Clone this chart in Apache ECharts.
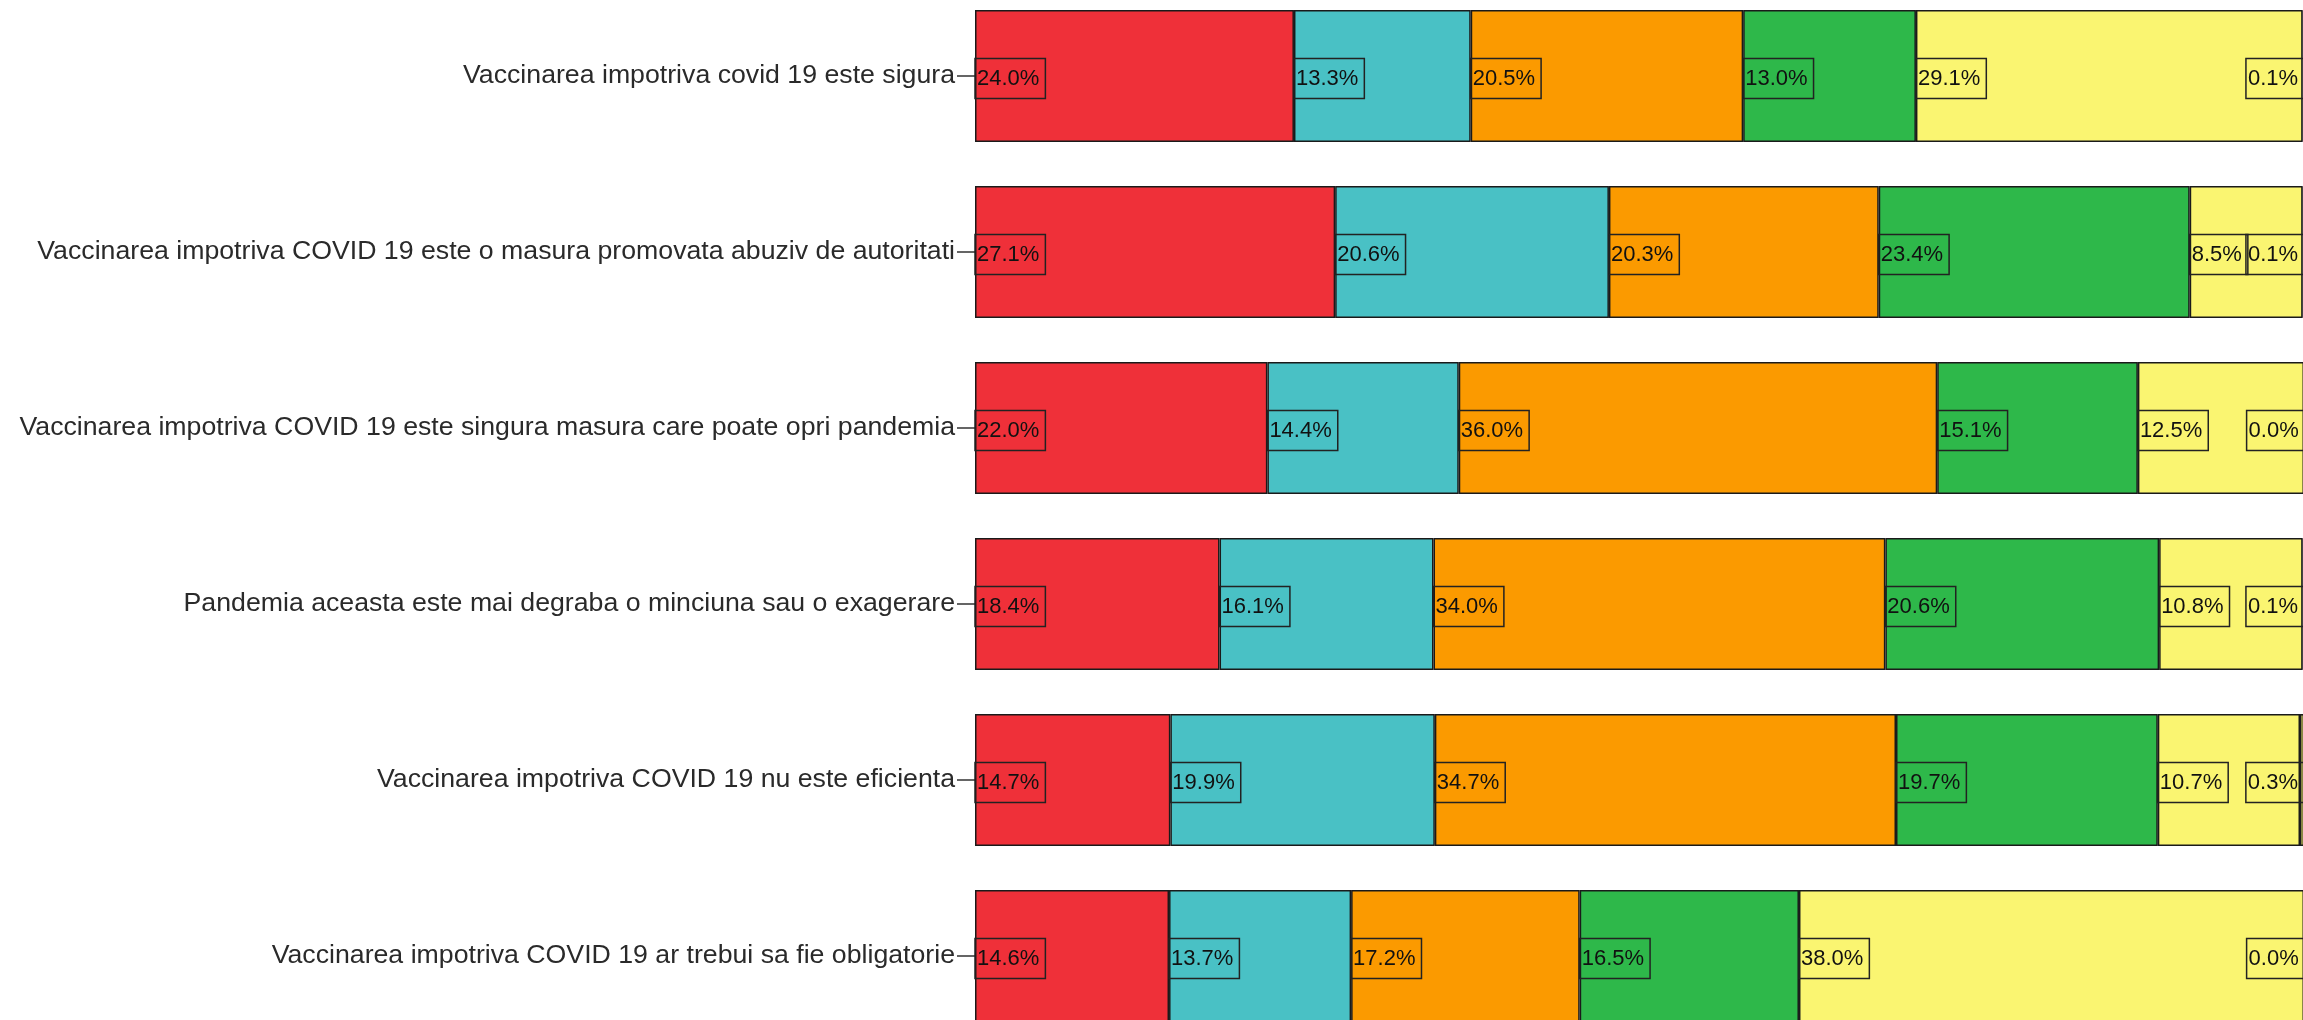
<!DOCTYPE html>
<html>
<head>
<meta charset="utf-8">
<script src="https://cdn.jsdelivr.net/npm/echarts@6/dist/echarts.min.js"></script>
<style>
html,body{margin:0;padding:0;background:#fff;}
#chart{width:2303px;height:1020px;}
</style>
</head>
<body>
<div id="chart"></div>
<script>
var categories = [
  "Vaccinarea impotriva covid 19 este sigura",
  "Vaccinarea impotriva COVID 19 este o masura promovata abuziv de autoritati",
  "Vaccinarea impotriva COVID 19 este singura masura care poate opri pandemia",
  "Pandemia aceasta este mai degraba o minciuna sau o exagerare",
  "Vaccinarea impotriva COVID 19 nu este eficienta",
  "Vaccinarea impotriva COVID 19 ar trebui sa fie obligatorie"
];
var seriesNames = ["1", "2", "3", "4", "5", "6"];
var s1 = [24.0, 27.1, 22.0, 18.4, 14.7, 14.6];
var s2 = [13.3, 20.6, 14.4, 16.1, 19.9, 13.7];
var s3 = [20.5, 20.3, 36.0, 34.0, 34.7, 17.2];
var s4 = [13.0, 23.4, 15.1, 20.6, 19.7, 16.5];
var s5 = [29.1, 8.5, 12.5, 10.8, 10.7, 38.0];
var s6 = [0.1, 0.1, 0.0, 0.1, 0.3, 0.0];
var colors = ["#EF3039", "#49C1C5", "#FB9A00", "#2EB84A", "#FAF571", "#FAF571"];

var allData = [s1, s2, s3, s4, s5, s6];

var chart = echarts.init(document.getElementById('chart'), null, {renderer: 'canvas'});

var series = allData.map(function (d, i) {
  var last = i === allData.length - 1;
  return {
    name: seriesNames[i],
    type: 'bar',
    stack: 'total',
    data: d,
    barCategoryGap: '25%',
    itemStyle: {color: colors[i], borderColor: '#1a1a1a', borderWidth: 1.5},
    label: {
      show: true,
      position: last ? 'insideRight' : 'insideLeft',
      distance: 0,
      offset: [0, 2.5],
      formatter: function (p) { return p.value.toFixed(1) + '%'; },
      fontFamily: 'Liberation Sans, Arial, sans-serif',
      fontSize: 22,
      lineHeight: 24,
      color: '#111',
      borderColor: '#222',
      borderWidth: 1.5,
      padding: [8, 6, 8, 2]
    },
    emphasis: {disabled: true},
    animation: false
  };
});

chart.setOption({
  animation: false,
  grid: {left: 975, right: -1, top: -12, height: 1056, containLabel: false, outerBoundsMode: 'none'},
  xAxis: {type: 'value', min: 0, max: 100, show: false},
  yAxis: {
    type: 'category',
    inverse: true,
    data: categories,
    axisLine: {show: false},
    axisTick: {show: true, alignWithLabel: true, length: 18, lineStyle: {color: '#333', width: 1.5}},
    axisLabel: {
      margin: 20,
      padding: [5, 0, 0, 0],
      fontFamily: 'Liberation Sans, Arial, sans-serif',
      fontSize: 26.7,
      color: '#2a2a2a'
    }
  },
  series: series
});
</script>
</body>
</html>
